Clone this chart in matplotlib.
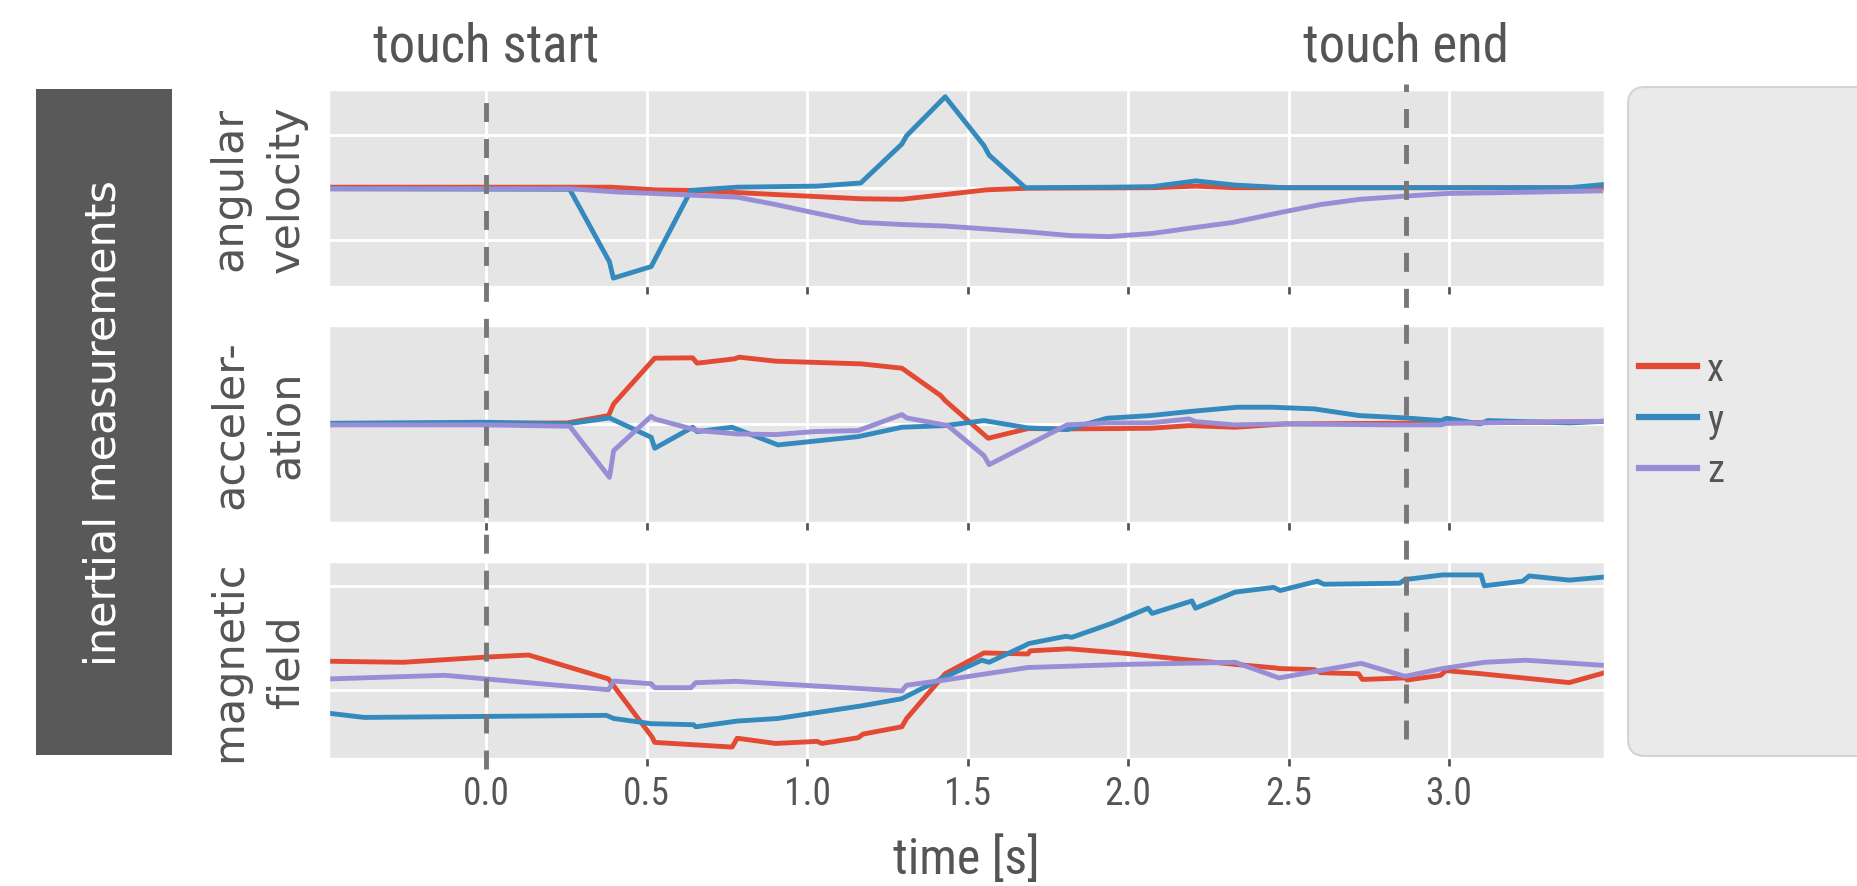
import matplotlib
matplotlib.use('Agg')
import matplotlib.pyplot as plt
from matplotlib.lines import Line2D
from matplotlib.patches import FancyBboxPatch, Rectangle
import matplotlib.transforms as mtransforms

plt.style.use('ggplot')

# condensed font for ticks / annotations
cond = ['Roboto Condensed', 'Liberation Sans Narrow', 'Roboto', 'DejaVu Sans']
grey = '#555555'

# angular velocity
gyro_x_t = [-0.49, 0.389, 0.525, 0.645, 0.902, 1.167, 1.295, 1.43, 1.559, 1.688, 2.08, 2.21, 2.33, 3.48]
gyro_x = [0.01, 0.01, -0.04, -0.05, -0.13, -0.21, -0.22, -0.13, -0.04, -0.01, 0.0, 0.03, 0.0, 0.0]
gyro_y_t = [-0.49, 0.26, 0.384, 0.396, 0.514, 0.638, 0.782, 1.031, 1.167, 1.295, 1.31, 1.43,
            1.551, 1.567, 1.68, 1.946, 2.075, 2.211, 2.333, 2.488, 3.375, 3.48]
gyro_y = [-0.02, -0.03, -1.41, -1.72, -1.50, -0.05, 0.01, 0.03, 0.09, 0.83, 0.99, 1.73,
          0.80, 0.62, 0.0, 0.01, 0.02, 0.13, 0.05, 0.0, 0.0, 0.06]
gyro_z_t = [-0.49, 0.26, 0.404, 0.525, 0.782, 0.902, 1.008, 1.167, 1.295, 1.43, 1.688, 1.82,
            1.94, 2.075, 2.205, 2.327, 2.476, 2.6, 2.723, 2.863, 2.993, 3.2, 3.473]
gyro_z = [-0.02, -0.02, -0.08, -0.11, -0.18, -0.32, -0.46, -0.66, -0.70, -0.73, -0.84, -0.91,
          -0.93, -0.87, -0.76, -0.66, -0.47, -0.32, -0.22, -0.16, -0.11, -0.09, -0.06]

# acceleration
acc_x_t = [-0.49, 0.252, 0.381, 0.397, 0.525, 0.643, 0.657, 0.774, 0.788, 0.902, 1.167, 1.295,
           1.416, 1.43, 1.564, 1.688, 1.81, 2.07, 2.19, 2.333, 2.488, 3.0, 3.48]
acc_x = [0.0, 0.03, 0.25, 0.60, 1.97, 1.98, 1.82, 1.95, 2.0, 1.88, 1.80, 1.67,
         0.85, 0.70, -0.43, -0.14, -0.15, -0.13, -0.05, -0.10, 0.0, 0.03, 0.07]
acc_y_t = [-0.49, 0.0, 0.252, 0.384, 0.514, 0.525, 0.643, 0.657, 0.766, 0.909, 1.159, 1.295,
           1.43, 1.551, 1.688, 1.81, 1.934, 2.07, 2.19, 2.34, 2.45, 2.58, 2.72, 2.863, 2.975,
           2.993, 3.097, 3.12, 3.375, 3.48]
acc_y = [0.02, 0.05, 0.0, 0.18, -0.40, -0.73, -0.10, -0.23, -0.10, -0.63, -0.38, -0.10,
         -0.05, 0.10, -0.12, -0.17, 0.17, 0.25, 0.37, 0.50, 0.50, 0.45, 0.25, 0.18, 0.10,
         0.17, 0.0, 0.10, 0.03, 0.08]
acc_z_t = [-0.49, 0.0, 0.26, 0.384, 0.397, 0.514, 0.525, 0.66, 0.782, 0.902, 1.022, 1.159,
           1.295, 1.31, 1.438, 1.551, 1.567, 1.81, 1.934, 2.07, 2.19, 2.21, 2.333, 2.488,
           2.83, 2.975, 2.993, 3.1, 3.48]
acc_z = [-0.03, -0.03, -0.07, -1.60, -0.80, 0.23, 0.15, -0.20, -0.30, -0.32, -0.23, -0.20,
         0.28, 0.18, -0.05, -0.95, -1.22, -0.03, 0.03, 0.03, 0.15, 0.07, -0.03, 0.0,
         -0.03, -0.03, 0.02, 0.03, 0.08]

# magnetic field
mag_x_t = [-0.49, -0.26, 0.0, 0.132, 0.381, 0.517, 0.525, 0.766, 0.782, 0.902, 1.031, 1.046,
           1.159, 1.174, 1.295, 1.31, 1.43, 1.551, 1.688, 1.695, 1.815, 1.994, 2.164, 2.334,
           2.462, 2.47, 2.58, 2.6, 2.718, 2.73, 2.863, 2.87, 2.974, 2.99, 3.1, 3.375, 3.485]
mag_x = [0.28, 0.27, 0.32, 0.34, 0.11, -0.45, -0.50, -0.545, -0.46, -0.51, -0.49, -0.51,
         -0.455, -0.42, -0.35, -0.27, 0.16, 0.36, 0.35, 0.38, 0.40, 0.355, 0.30, 0.25,
         0.215, 0.21, 0.20, 0.17, 0.16, 0.105, 0.12, 0.10, 0.145, 0.19, 0.16, 0.075, 0.17]
mag_y_t = [-0.49, -0.38, 0.0, 0.374, 0.397, 0.514, 0.646, 0.653, 0.782, 0.909, 1.037, 1.167,
           1.295, 1.43, 1.544, 1.567, 1.678, 1.69, 1.806, 1.825, 1.95, 2.062, 2.075, 2.199,
           2.21, 2.334, 2.454, 2.474, 2.59, 2.61, 2.846, 2.863, 2.98, 3.1, 3.11, 3.23, 3.25,
           3.375, 3.485]
mag_y = [-0.22, -0.26, -0.25, -0.24, -0.27, -0.32, -0.33, -0.35, -0.295, -0.27, -0.21, -0.15,
         -0.08, 0.13, 0.29, 0.27, 0.43, 0.45, 0.52, 0.51, 0.645, 0.79, 0.74, 0.86,
         0.79, 0.945, 0.99, 0.96, 1.05, 1.02, 1.03, 1.065, 1.11, 1.11, 1.005, 1.05, 1.10,
         1.06, 1.09]
mag_z_t = [-0.49, -0.13, 0.0, 0.381, 0.397, 0.514, 0.525, 0.638, 0.653, 0.778, 1.295, 1.31,
           1.43, 1.688, 1.994, 2.334, 2.47, 2.726, 2.863, 2.98, 3.11, 3.24, 3.485]
mag_z = [0.11, 0.145, 0.11, 0.006, 0.09, 0.064, 0.026, 0.026, 0.074, 0.087, -0.006, 0.05,
         0.10, 0.22, 0.25, 0.27, 0.12, 0.26, 0.135, 0.21, 0.27, 0.29, 0.24]

panels = [
    ('angular\nvelocity', (gyro_x_t, gyro_x), (gyro_y_t, gyro_y), (gyro_z_t, gyro_z), (-1.86, 1.86), [-1, 0, 1]),
    ('acceler-\nation', (acc_x_t, acc_x), (acc_y_t, acc_y), (acc_z_t, acc_z), (-2.93, 2.93), [0]),
    ('magnetic\nfield', (mag_x_t, mag_x), (mag_y_t, mag_y), (mag_z_t, mag_z), (-0.65, 1.23), [0, 1]),
]
labels = ['x', 'y', 'z']
colors = ['#E24A33', '#348ABD', '#988ED5']
touch_start = 0.0
touch_end = 2.865

fig = plt.figure(figsize=(18.58, 8.87), dpi=100)
W, H = 1858, 887
left, width, height = 329 / W, 1275 / W, 0.2205
bottoms = [0.677, 0.4107, 0.1443]

axes = []
for (name, sx, sy, sz, ylim, yt), b in zip(panels, bottoms):
    ax = fig.add_axes([left, b, width, height])
    for (t, v), c, lab in zip([sx, sy, sz], colors, labels):
        ax.plot(t, v, color=c, lw=3.5, label=lab)
    ax.set_xlim(-0.49, 3.483)
    ax.set_ylim(*ylim)
    ax.set_yticks(yt)
    ax.set_xticks([0.0, 0.5, 1.0, 1.5, 2.0, 2.5, 3.0])
    ax.grid(True, color='white', lw=2)
    ax.tick_params(axis='y', length=0, labelleft=False)
    ax.tick_params(axis='x', length=6, width=2, color=grey, direction='out', pad=6)
    ax.set_ylabel(name, fontsize=31, color=grey, linespacing=1.45)
    ax.yaxis.set_label_coords(-0.017, 0.5)
    axes.append(ax)

for ax in axes[:-1]:
    ax.tick_params(axis='x', labelbottom=False)
for lab in axes[-1].get_xticklabels():
    lab.set_fontfamily(cond)
    lab.set_fontsize(27)
    lab.set_color(grey)
axes[-1].set_xlabel('time [s]', fontsize=36, color=grey, family=cond, labelpad=16)

# dashed touch markers spanning all panels
trans = mtransforms.blended_transform_factory(axes[0].transData, fig.transFigure)
fig.add_artist(Line2D([touch_start, touch_start], [(H - 770) / H, (H - 98) / H], transform=trans,
                      color='#777777', lw=3.5, dashes=(3.9, 3.5)))
fig.add_artist(Line2D([touch_end, touch_end], [(H - 740) / H, (H - 85) / H], transform=trans,
                      color='#777777', lw=3.5, dashes=(3.9, 3.5)))
fig.text(touch_start, (H - 61) / H, 'touch start', transform=trans, ha='center', va='baseline',
         fontsize=38, color=grey, family=cond)
fig.text(touch_end, (H - 61) / H, 'touch end', transform=trans, ha='center', va='baseline',
         fontsize=38, color=grey, family=cond)

# group label box on the left
fig.add_artist(Rectangle((36 / W, (H - 756) / H), 136 / W, 666 / H, transform=fig.transFigure,
                         facecolor='#595959', edgecolor='none'))
fig.text(104 / W, (H - 423) / H, 'inertial measurements', rotation=90, ha='center', va='center',
         fontsize=31, color='white')

# legend panel running off the right edge
fig.add_artist(FancyBboxPatch((1628 / 100, (H - 757) / 100), 3.0, 6.69,
                              boxstyle='round,pad=0,rounding_size=0.17',
                              transform=fig.dpi_scale_trans, facecolor='#E5E5E5', alpha=0.8,
                              edgecolor='#cccccc', lw=1.5))
handles = [Line2D([], [], color=c, lw=4.5) for c in colors]
leg = fig.legend(handles, labels, loc='center left', bbox_to_anchor=(1604 / W, (H - 421) / H),
                 frameon=False, handlelength=1.5, handletextpad=0.25, labelspacing=0.35,
                 prop={'family': cond, 'size': 28})
for t in leg.get_texts():
    t.set_color(grey)

fig.savefig('out.png', dpi=100)
